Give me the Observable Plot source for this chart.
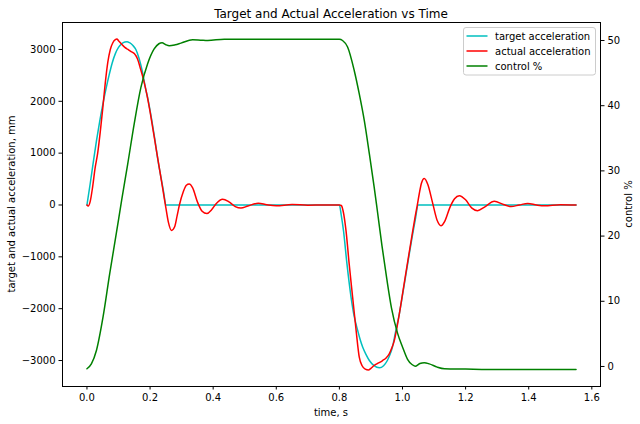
<!DOCTYPE html>
<html>
<head>
<meta charset="utf-8">
<script src="https://cdn.jsdelivr.net/npm/d3@7"></script>
<script src="https://cdn.jsdelivr.net/npm/@observablehq/plot@0.6"></script>
<style>
  body { margin: 0; background: #fff; }
  #wrap { position: relative; width: 640px; height: 424px; font-family: "DejaVu Sans", sans-serif; }
  #wrap > svg, #wrap > figure { position: absolute; left: 0; top: 0; margin: 0; }
</style>
</head>
<body>
<div id="wrap"></div>
<script>
// ---- data ----
const targetT = [0, 0.01, 0.02, 0.03, 0.04, 0.05, 0.06, 0.07, 0.08, 0.09, 0.1,
  0.11, 0.12, 0.127, 0.135, 0.145, 0.155, 0.165, 0.175, 0.185, 0.195,
  0.205, 0.215, 0.225, 0.235, 0.243, 0.25,
  0.8, 0.806, 0.813, 0.824, 0.837, 0.847, 0.858, 0.866, 0.874, 0.885,
  0.895, 0.91, 0.927, 0.94, 0.952, 0.96, 0.968, 0.978, 0.99, 1.0,
  1.01, 1.02, 1.03, 1.04, 1.05, 1.55];
const targetV = [0, 400, 820, 1230, 1600, 1930, 2230, 2500, 2740, 2920, 3040,
  3110, 3145, 3150, 3130, 3080, 3000, 2830, 2590, 2270, 1990,
  1650, 1270, 860, 520, 250, 0,
  0, -200, -495, -1137, -1780, -2150, -2420, -2600, -2744, -2890,
  -3000, -3100, -3140, -3100, -3000, -2890, -2744, -2450, -2100, -1740,
  -1370, -1000, -640, -300, 0, 0];

const actualT = [0, 0.004, 0.01, 0.018, 0.026, 0.034, 0.042, 0.05, 0.058, 0.066,
  0.074, 0.082, 0.09, 0.095, 0.1, 0.11, 0.12, 0.13, 0.14, 0.15,
  0.16, 0.17, 0.18, 0.19, 0.2, 0.21, 0.22, 0.23, 0.24, 0.25,
  0.258, 0.268, 0.278, 0.286, 0.293, 0.305, 0.315, 0.324, 0.335, 0.35,
  0.365, 0.38, 0.395, 0.41, 0.43, 0.45, 0.47, 0.488, 0.51, 0.543,
  0.57, 0.6, 0.65, 0.7, 0.75, 0.8, 0.806, 0.812, 0.821, 0.831,
  0.842, 0.853, 0.863, 0.872, 0.882, 0.892, 0.9, 0.91, 0.92, 0.937,
  0.948, 0.958, 0.966, 0.974, 0.982, 0.99, 1.0, 1.01, 1.02, 1.03,
  1.04, 1.047, 1.053, 1.06, 1.069, 1.08, 1.095, 1.11, 1.122, 1.135,
  1.15, 1.165, 1.18, 1.2, 1.22, 1.238, 1.26, 1.291, 1.32, 1.344,
  1.37, 1.397, 1.425, 1.45, 1.5, 1.55];
const actualV = [0, -20, 60, 350, 720, 1000, 1400, 1860, 2350, 2750,
  3000, 3130, 3190, 3200, 3170, 3100, 3040, 3000, 2960, 2920,
  2820, 2620, 2400, 2130, 1800, 1430, 1060, 690, 320, -50,
  -330, -490, -420, -200, 0, 250, 380, 405, 330, 60,
  -120, -165, -90, 30, 110, 60, -30, -60, -20, 35,
  5, -15, 8, -3, 0, 0, -10, -120, -495, -1137,
  -1780, -2420, -2935, -3100, -3165, -3182, -3150, -3096, -3060, -3000,
  -2950, -2870, -2760, -2615, -2380, -2100, -1720, -1340, -960, -590,
  -230, 0, 212, 420, 512, 400, 50, -300, -400, -300,
  -50, 120, 180, 100, -60, -110, -40, 70, 10, -30,
  0, 30, 0, -15, 5, 0];

const controlT = [0, 0.014, 0.03, 0.051, 0.072, 0.093, 0.11, 0.129, 0.15, 0.171,
  0.192, 0.213, 0.228, 0.238, 0.25, 0.261, 0.28, 0.298, 0.335, 0.36,
  0.383, 0.435, 0.6, 0.8, 0.81, 0.826, 0.847, 0.863, 0.879, 0.895,
  0.91, 0.92, 0.935, 0.95, 0.965, 0.985, 1.0, 1.016, 1.03, 1.04,
  1.055, 1.069, 1.085, 1.11, 1.133, 1.2, 1.27, 1.55];
const controlV = [-0.35, 0.4, 2.45, 7.6, 14.2, 20.4, 25.5, 31.0, 37.3, 42.8,
  46.4, 48.7, 49.5, 49.65, 49.35, 49.2, 49.35, 49.6, 50.1, 50.05,
  50.0, 50.2, 50.2, 50.2, 50.0, 49.0, 45.4, 41.8, 37.7, 32.6,
  27.6, 24.0, 18.5, 13.5, 9.0, 5.0, 3.0, 1.1, 0.3, 0.05,
  0.45, 0.57, 0.4, -0.1, -0.35, -0.4, -0.46, -0.46];

const xTicks = [0, 0.2, 0.4, 0.6, 0.8, 1.0, 1.2, 1.4, 1.6];
const yLeftTicks = [-3000, -2000, -1000, 0, 1000, 2000, 3000];
const yRightTicks = [0, 10, 20, 30, 40, 50];

const seriesNames = ["target acceleration", "actual acceleration", "control %"];
const seriesColors = ["#00bfbf", "#ff0000", "#008000"];

const titleText = "Target and Actual Acceleration vs Time";
const xLabel = "time, s";
const yLeftLabel = "target and actual acceleration, mm";
const yRightLabel = "control %";

// ---- build tables ----
const target = targetT.map((t, i) => ({t, v: targetV[i]}));
const actual = actualT.map((t, i) => ({t, v: actualV[i]}));
const control = controlT.map((t, i) => ({t, v: controlV[i]}));

const W = 640, H = 424;
const margins = {marginLeft: 62, marginRight: 40, marginTop: 22, marginBottom: 38};
const xDomain = [-0.0775, 1.6275];
const style = {fontSize: "10px", fontFamily: "DejaVu Sans, sans-serif", color: "black", background: "transparent", overflow: "visible"};

const left = Plot.plot({
  width: W, height: H, ...margins, style,
  x: {domain: xDomain, label: null},
  y: {domain: [-3501, 3520], label: null},
  marks: [
    Plot.line(target, {x: "t", y: "v", stroke: seriesColors[0], strokeWidth: 1.5, curve: "monotone-x"}),
    Plot.line(actual, {x: "t", y: "v", stroke: seriesColors[1], strokeWidth: 1.5, curve: "monotone-x"}),
    Plot.axisX({ticks: xTicks, tickFormat: d3.format(".1f"), tickSize: 3.5, tickPadding: 3.5, label: null}),
    Plot.axisY({ticks: yLeftTicks, tickFormat: d3.format("d"), tickSize: 3.5, tickPadding: 3.5, label: null})
  ]
});

const right = Plot.plot({
  width: W, height: H, ...margins, style,
  x: {domain: xDomain, label: null, axis: null},
  y: {domain: [-3.07, 52.76], label: null},
  marks: [
    Plot.line(control, {x: "t", y: "v", stroke: seriesColors[2], strokeWidth: 1.5, curve: "monotone-x"}),
    Plot.axisY({anchor: "right", ticks: yRightTicks, tickFormat: d3.format("d"), tickSize: 3.5, tickPadding: 3.5, label: null}),
    Plot.frame({stroke: "black", strokeWidth: 1})
  ]
});

const wrap = document.getElementById("wrap");
wrap.appendChild(left);
wrap.appendChild(right);

// ---- annotations: title, axis labels, legend ----
const ann = d3.select(wrap).append("svg")
  .attr("width", W).attr("height", H)
  .style("font-family", "DejaVu Sans, sans-serif");

ann.append("text").attr("x", 331).attr("y", 17.5).attr("text-anchor", "middle")
  .attr("font-size", 12).attr("fill", "black").text(titleText);
ann.append("text").attr("x", 331).attr("y", 416).attr("text-anchor", "middle")
  .attr("font-size", 10).attr("fill", "black").text(xLabel);
ann.append("text").attr("transform", "translate(15,204) rotate(-90)").attr("text-anchor", "middle")
  .attr("font-size", 10).attr("fill", "black").text(yLeftLabel);
ann.append("text").attr("transform", "translate(632,204) rotate(-90)").attr("text-anchor", "middle")
  .attr("font-size", 10).attr("fill", "black").text(yRightLabel);

const lg = ann.append("g").attr("transform", "translate(463.5,27.5)");
lg.append("rect").attr("width", 132).attr("height", 47.5).attr("rx", 2.5)
  .attr("fill", "rgba(255,255,255,0.8)").attr("stroke", "#cccccc").attr("stroke-width", 1);
seriesNames.forEach((name, i) => {
  const y = 8.5 + i * 15;
  lg.append("line").attr("x1", 3).attr("x2", 24).attr("y1", y).attr("y2", y)
    .attr("stroke", seriesColors[i]).attr("stroke-width", 1.5);
  lg.append("text").attr("x", 31.5).attr("y", y + 3.6).attr("font-size", 10)
    .attr("fill", "black").text(name);
});
</script>
</body>
</html>
